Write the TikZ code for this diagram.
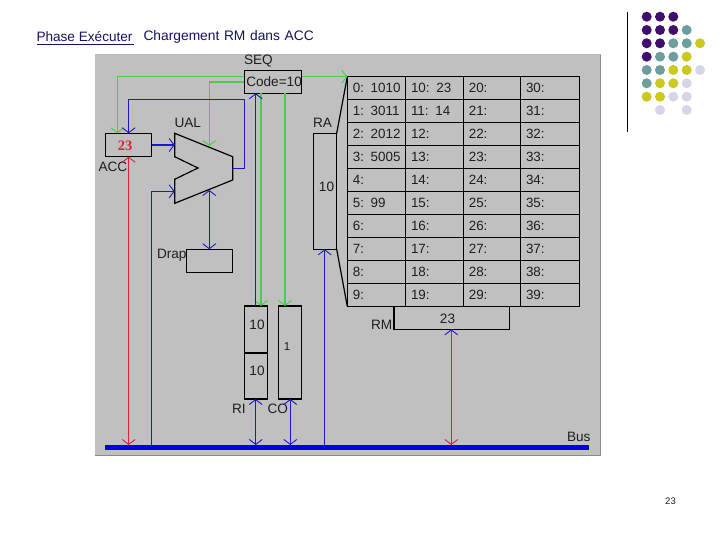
\documentclass[tikz,border=0pt]{standalone}
\usepackage{fontspec}
\setmainfont{Liberation Sans}
\newfontfamily\serifbold{Liberation Serif}
\usetikzlibrary{arrows.meta}
\definecolor{panel}{HTML}{C0C0C0}
\definecolor{panelEdge}{HTML}{8A8A8A}
\definecolor{ink}{HTML}{1E1E1E}
\definecolor{busBlue}{HTML}{0000E0}
\definecolor{wireBlue}{HTML}{1A1AC8}
\definecolor{wireGreen}{HTML}{44D044}
\definecolor{wireRed}{HTML}{E01E32}
\definecolor{navy}{HTML}{14145A}
\definecolor{dotP}{HTML}{3F0F6E}
\definecolor{dotT}{HTML}{6C9EA0}
\definecolor{dotY}{HTML}{C9C91E}
\definecolor{dotL}{HTML}{D6D6E8}
\tikzset{
  box/.style={draw=black,line width=1.2pt,inner sep=0pt,outer sep=0pt,anchor=north west,fill=panel},
  lab/.style={font=\fontsize{13.6}{13.6}\selectfont,text=ink,inner sep=0pt,outer sep=0pt,anchor=west},
  num/.style={font=\fontsize{13.6}{13.6}\selectfont,text=ink,inner sep=0pt,outer sep=0pt},
  cell/.style={box,minimum width=58pt,minimum height=23pt,text width=48pt,inner xsep=5.5pt,align=left,font=\fontsize{13.4}{13.4}\selectfont,text=ink},
  tipB/.tip={Straight Barb[length=5pt,width=13pt,line width=.9pt,color=wireBlue]},
  tipG/.tip={Straight Barb[length=5pt,width=13pt,line width=.9pt,color=wireGreen]},
  tipR/.tip={Straight Barb[length=5pt,width=13pt,line width=.9pt,color=wireRed]},
  wB/.style={draw=wireBlue,line width=1.25pt},
  wG/.style={draw=wireGreen,line width=1.25pt},
  wR/.style={draw=wireRed,line width=1.25pt},
  dot/.style={circle,minimum size=10pt,inner sep=0pt,outer sep=0pt}
}
\begin{document}
\begin{tikzpicture}[x=1pt,y=-1pt]
\useasboundingbox (0,0) rectangle (720,540);
\fill[white] (0,0) rectangle (720,540);
% title
\node[lab,text=navy,font=\fontsize{13.6}{13.6}\selectfont] (phase) at (36.5,36.5) {Phase Exécuter};
\node[lab,text=navy,font=\fontsize{13.8}{13.8}\selectfont,text width=172pt] (charge) at (143.5,36.5) {Chargement RM dans ACC};
\coordinate (ulA) at (36.7,44.5);
\coordinate (ulB) at (134,44.5);
\draw[navy,line width=1pt] (ulA) -- (ulB);
% panel
\node[draw=none,fill=panel,inner sep=0pt,outer sep=0pt,anchor=north west,minimum width=505.5pt,minimum height=401pt] (panelbox) at (95,54) {};
\draw[panelEdge,line width=1pt] (panelbox.north east) -- (panelbox.south east) -- (panelbox.south west);
\draw[panelEdge!60,line width=.8pt] (panelbox.north west) -- (panelbox.north east);
% decoration
\coordinate (vA) at (627.3,12);
\coordinate (vB) at (627.3,132);
\draw[black,line width=1pt] (vA) -- (vB);
\foreach \xx/\yy/\cc in {
 646.7/16.7/dotP,660/16.7/dotP,673.3/16.7/dotP,
 646.7/30/dotP,660/30/dotP,673.3/30/dotP,686.7/30/dotT,
 646.7/43.3/dotP,660/43.3/dotP,673.3/43.3/dotT,686.7/43.3/dotT,700/43.3/dotY,
 646.7/56.7/dotP,660/56.7/dotT,673.3/56.7/dotT,686.7/56.7/dotY,
 646.7/70/dotT,660/70/dotT,673.3/70/dotY,686.7/70/dotY,700/70/dotL,
 646.7/83.3/dotT,660/83.3/dotY,673.3/83.3/dotY,686.7/83.3/dotL,
 646.7/96.7/dotY,660/96.7/dotY,673.3/96.7/dotL,686.7/96.7/dotL,
 660/110/dotL,686.7/110/dotL}
  \node[dot,fill=\cc] at (\xx,\yy) {};
% memory table
\foreach \t [count=\i from 0] in {0: 1010,1: 3011,2: 2012,3: 5005,4:,5: 99,6:,7:,8:,9:}
  \node[cell] (m0-\i) at (347.3,76.7+22.96*\i) {\t};
\foreach \t [count=\i from 0] in {10: 23,11: 14,12:,13:,14:,15:,16:,17:,18:,19:}
  \node[cell] (m1-\i) at (405.5,76.7+22.96*\i) {\t};
\foreach \t [count=\i from 0] in {20:,21:,22:,23:,24:,25:,26:,27:,28:,29:}
  \node[cell,minimum width=57pt] (m2-\i) at (463.3,76.7+22.96*\i) {\t};
\foreach \t [count=\i from 0] in {30:,31:,32:,33:,34:,35:,36:,37:,38:,39:}
  \node[cell] (m3-\i) at (520.5,76.7+22.96*\i) {\t};
% boxes
\node[box,minimum width=57.4pt,minimum height=23pt] (seq) at (244.3,70.3) {};
\node[lab] (code) at (246.3,82) {Code=10};
\node[lab] (seqlab) at (244,61.5) {SEQ};
\node[box,minimum width=46.4pt,minimum height=23.4pt] (acc) at (105.3,133.3) {};
\node[inner sep=0pt,font=\serifbold\bfseries\fontsize{14.5}{14.5}\selectfont,text=wireRed] (accv) at (125,145.3) {23};
\node[lab] (acclab) at (98.5,166.5) {ACC};
\node[lab] (uallab) at (174.5,122.5) {UAL};
\node[lab] (ralab) at (313,122.5) {RA};
\node[box,minimum width=23.4pt,minimum height=116pt] (ra) at (313.3,133.3) {};
\node[num] (raval) at (326.5,186.5) {10};
\node[lab] (draplab) at (157,255.5) {Drap};
\node[box,minimum width=46.4pt,minimum height=23.4pt] (drap) at (186.3,249.3) {};
\node[box,minimum width=23.4pt,minimum height=46.7pt] (ri1) at (244.3,306) {};
\node[box,minimum width=23.4pt,minimum height=46.3pt] (ri2) at (244.3,352.7) {};
\draw[black,line width=1.8pt] (ri1.south west) -- (ri1.south east);
\draw[black,line width=1.8pt] (ri2.south west) -- (ri2.south east);
\node[num] (ri1v) at (257,324.5) {10};
\node[num] (ri2v) at (257,370.5) {10};
\node[box,minimum width=23.4pt,minimum height=93pt] (co) at (278.3,306) {};
\draw[black,line width=1.8pt] (co.south west) -- (co.south east);
\node[num,font=\fontsize{11.5}{11.5}\selectfont] (cov) at (287,347) {1};
\node[lab] (rilab) at (232,408.5) {RI};
\node[lab] (colab) at (267.5,408.5) {CO};
\node[box,minimum width=115.7pt,minimum height=23pt] (rm) at (394,306.3) {};
\node[num] (rmv) at (447.5,319) {23};
\node[lab] (rmlab) at (371,324.5) {RM};
\node[lab] (buslab) at (567,436.5) {Bus};
\node[fill=busBlue,inner sep=0pt,outer sep=0pt,anchor=north west,minimum width=483.7pt,minimum height=5pt] (bus) at (105,445) {};
\node[inner sep=0pt,font=\fontsize{9.5}{9.5}\selectfont,text=ink] (page) at (670.5,501) {23};
% UAL
\coordinate (u1) at (174.7,133.3);
\coordinate (u2) at (232.7,156.7);
\coordinate (u3) at (232.7,180);
\coordinate (u4) at (174.7,203.3);
\coordinate (u5) at (174.7,179.3);
\coordinate (u6) at (198,168);
\coordinate (u7) at (174.7,156.7);
\draw[black,line width=1.2pt,line join=miter] (u1) -- (u2) -- (u3) -- (u4) -- (u5) -- (u6) -- (u7) -- cycle;
% RA flare
\draw[black,line width=1.2pt] (ra.north east) -- (m0-0.north west);
\draw[black,line width=1.2pt] (ra.south east) -- (m0-9.south west);
% free ports
\coordinate (seqG1) at (244.3,76.7);
\coordinate (seqG2) at (244.3,82);
\coordinate (seqR) at (301.7,76.7);
\coordinate (memIn) at (347.3,76.7);
\coordinate (accGt) at (117.3,133.3);
\coordinate (accBt) at (128.7,133.3);
\coordinate (uTop) at (209.3,146);
\coordinate (uBot) at (209.3,190);
\coordinate (uOut) at (232.7,168.3);
\coordinate (uInA) at (174.7,145);
\coordinate (uInB) at (174.7,191.3);
\coordinate (busCol) at (151.3,445);
\coordinate (riB) at (255.7,306);
\coordinate (riG) at (261,306);
\coordinate (coG) at (285,306);
\coordinate (riBot) at (255.7,399);
\coordinate (coBot) at (290.3,399);
\coordinate (raBot) at (324.7,249.3);
\coordinate (rmBot) at (451.3,329.3);
% green wires
\draw[wG,-tipG] (seqG1) -| (accGt);
\draw[wG,line width=2pt] (seqG2) -- (seqG2 -| uTop);
\draw[wG,-tipG] (seqG2 -| uTop) -- (uTop);
\draw[wG,-tipG] (seqR) -- (memIn);
\draw[wG,-tipG] (riG |- seq.south) -- (riG);
\draw[wG,-tipG] (coG |- seq.south) -- (coG);
% blue wires
\draw[wB,-tipB] (riB) -- (riB |- seq.south);
\draw[wB,-tipB] (uOut) -| (244.7,99.3) -| (accBt);
\draw[wB,-tipB] (acc.east |- uInA) -- (uInA);
\draw[wB,-tipB] (busCol) |- (uInB);
\draw[wB,tipB-tipB] (uBot) -- (drap.north -| uBot);
\draw[wB,tipB-tipB] (riBot) -- (riBot |- bus.north);
\draw[wB,tipB-tipB] (coBot) -- (coBot |- bus.north);
\draw[wB,-tipB] (raBot |- bus.north) -- (raBot);
% red wires
\draw[wR,tipR-tipR] (accBt |- acc.south) -- (accBt |- bus.north);
\draw[wR,tipB-tipR] (rmBot) -- (rmBot |- bus.north);
\end{tikzpicture}
\end{document}
